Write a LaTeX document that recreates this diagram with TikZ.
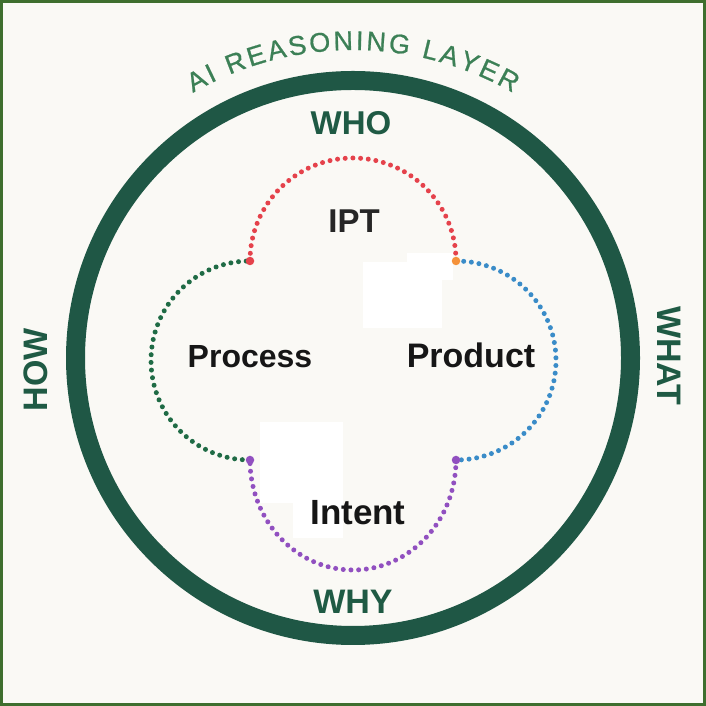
\documentclass[tikz,border=0pt]{standalone}
\usepackage{fontspec}
\setmainfont{Liberation Sans}
\newfontfamily\arcfont[FakeBold=0.8]{Liberation Sans}
\usetikzlibrary{calc}
\definecolor{bg}{HTML}{FAF9F5}
\definecolor{framegreen}{HTML}{3E6E2E}
\definecolor{ringgreen}{HTML}{1F5745}
\definecolor{labgreen}{HTML}{1F5A44}
\definecolor{arcgreen}{HTML}{3C8056}
\definecolor{ink}{HTML}{161616}
\definecolor{dred}{HTML}{E5424B}
\definecolor{dgreen}{HTML}{1F6B45}
\definecolor{dblue}{HTML}{3A8CC8}
\definecolor{dpurple}{HTML}{9150C0}
\definecolor{dorange}{HTML}{F5923A}
\begin{document}
\begin{tikzpicture}[x=1pt,y=1pt,
  ringline/.style={draw=ringgreen, line width=19pt},
  dotline/.style={line width=5pt, line cap=round, dash pattern=on 0pt off 7.7pt},
  cornerdot/.style={circle, inner sep=0pt, minimum size=8.5pt},
  axislabel/.style={font=\fontsize{34}{34}\selectfont\bfseries, text=labgreen, inner sep=0pt},
  lobelabel/.style={text=ink, inner sep=0pt, anchor=base},
  arcletter/.style={font=\fontsize{27}{27}\arcfont, text=arcgreen, inner sep=0pt, anchor=base}
]
\fill[bg] (0,0) rectangle (706,706);
\useasboundingbox (0,0) rectangle (706,706);
\draw[framegreen, line width=3pt] (1.5,1.5) rectangle (704.5,704.5);
% white patches
\fill[white] (363,444) rectangle (442,378);
\fill[white] (407,453) rectangle (453,426);
\fill[white] (260,284) rectangle (343,203);
\fill[white] (293,203) rectangle (343,168);
% ring
\coordinate (ctr) at (353,348);
\draw[ringline] (ctr) circle[radius=277.5];
% arc title
\coordinate (arcctr) at (353,336);
\foreach \c/\o [count=\i] in {A/-158.6, I/-143.25, R/-117.05, E/-95.7, A/-75.1, S/-54.5, O/-32.4, N/-9.55, I/6.55, N/22.65, G/45.5, L/76.2, A/95.3, Y/115.9, E/136.5, R/157.85}{
  \pgfmathsetmacro\ang{90-\o*0.17905}
  \node[arcletter, rotate=\ang-90] (t\i) at ($(arcctr)+(\ang:320)$) {\c};
}
% lobes
\coordinate (tl) at (250,445);
\coordinate (tr) at (456,445);
\coordinate (bl) at (250,246);
\coordinate (br) at (456,246);
\draw[dotline, draw=dred] (tl) arc[start angle=180, end angle=0, radius=103];
\draw[dotline, draw=dblue] (tr) arc[start angle=90, end angle=-90, x radius=100, y radius=99.5];
\draw[dotline, draw=dpurple] (br) arc[start angle=0, end angle=-180, x radius=103, y radius=110];
\draw[dotline, draw=dgreen] (bl) arc[start angle=270, end angle=90, x radius=99, y radius=99.5];
\node[cornerdot, fill=dred] (ctl) at (tl) {};
\node[cornerdot, fill=dorange] (ctr2) at (tr) {};
\node[cornerdot, fill=dpurple] (cbl) at (bl) {};
\node[cornerdot, fill=dpurple] (cbr) at (br) {};
% labels
\node[lobelabel, font=\fontsize{33}{33}\selectfont\bfseries, text=black!85] (ipt) at (354,473) {IPT};
\node[lobelabel, font=\fontsize{32}{32}\selectfont\bfseries] (process) at (250,338) {Process};
\node[lobelabel, font=\fontsize{34}{34}\selectfont\bfseries] (product) at (471,338) {Product};
\node[lobelabel, font=\fontsize{35}{35}\selectfont\bfseries] (intent) at (358,181) {Intent};
% axis labels
\node[axislabel, anchor=base, font=\fontsize{33}{33}\selectfont\bfseries] (who) at (351,571) {WHO};
\node[axislabel, anchor=base] (why) at (353,92) {WHY};
\node[axislabel, rotate=90, anchor=center] (how) at (36,336) {HOW};
\node[axislabel, rotate=-90, anchor=center] (what) at (669,350) {WHAT};
\end{tikzpicture}
\end{document}
